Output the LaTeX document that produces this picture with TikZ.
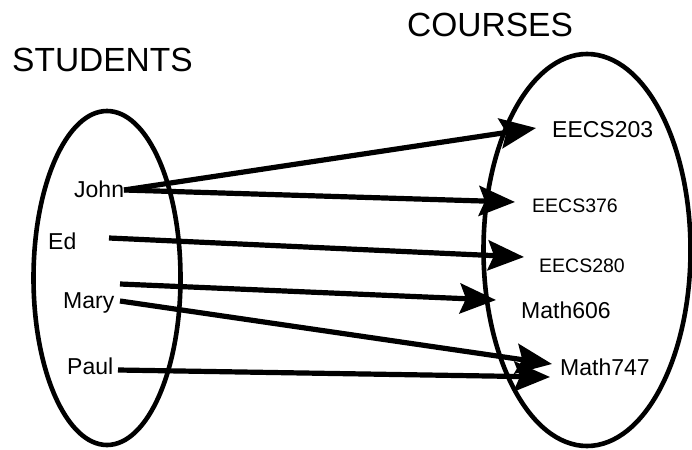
\documentclass[tikz,border=0pt]{standalone}
\usepackage{fontspec}
\setmainfont{Liberation Sans}
\usetikzlibrary{arrows.meta}
\tikzset{
  ttl/.style={anchor=base west, inner sep=0pt, font=\fontsize{33.5}{33.5}\selectfont},
  lbl/.style={anchor=base west, inner sep=0pt, font=\fontsize{23}{23}\selectfont},
  lblsm/.style={lbl, font=\fontsize{19.5}{19.5}\selectfont},
  link/.style={line width=5.2pt, -{Stealth[length=36pt,width=30pt,inset=6pt]}}
}
\begin{document}
\begin{tikzpicture}[x=1pt,y=-1pt]
            \useasboundingbox (0,0) rectangle (692,449);
            \draw [line width=4.6pt] (107,278) ellipse [x radius=73.5pt, y radius=167pt];
            \draw [line width=4.6pt] (587,250) ellipse [x radius=103.5pt, y radius=196pt];
            \node [ttl] (students) at (12,72) {STUDENTS};
            \node [ttl] (courses) at (407,37) {COURSES};
            \node [lbl] (john) at (74,197) {John};
            \node [lbl] (ed) at (48,249) {Ed};
            \node [lbl] (mary) at (63,308) {Mary};
            \node [lbl] (paul) at (67,374) {Paul};
            \node [lbl] (eecs203) at (552,138) {EECS203};
            \node [lblsm] (eecs376) at (532,212) {EECS376};
            \node [lblsm] (eecs280) at (539,272) {EECS280};
            \node [lbl] (math606) at (521,318) {Math606};
            \node [lbl] (math747) at (560,375) {Math747};
            \coordinate (johnout) at (124,190);
            \coordinate (edout) at (109,238);
            \coordinate (maryouta) at (120,284);
            \coordinate (maryoutb) at (120,301);
            \coordinate (paulout) at (118,370);
            \coordinate (in203) at (536,128);
            \coordinate (in376) at (515,202);
            \coordinate (in280) at (524,257);
            \coordinate (in606) at (496,300);
            \coordinate (in747a) at (552,364);
            \coordinate (in747b) at (550,377);
            \draw [link] (johnout) -- (in203);
            \draw [link] (johnout) -- (in376);
            \draw [link] (edout) -- (in280);
            \draw [link] (maryouta) -- (in606);
            \draw [link] (maryoutb) -- (in747a);
            \draw [link] (paulout) -- (in747b);
        \end{tikzpicture}
\end{document}
